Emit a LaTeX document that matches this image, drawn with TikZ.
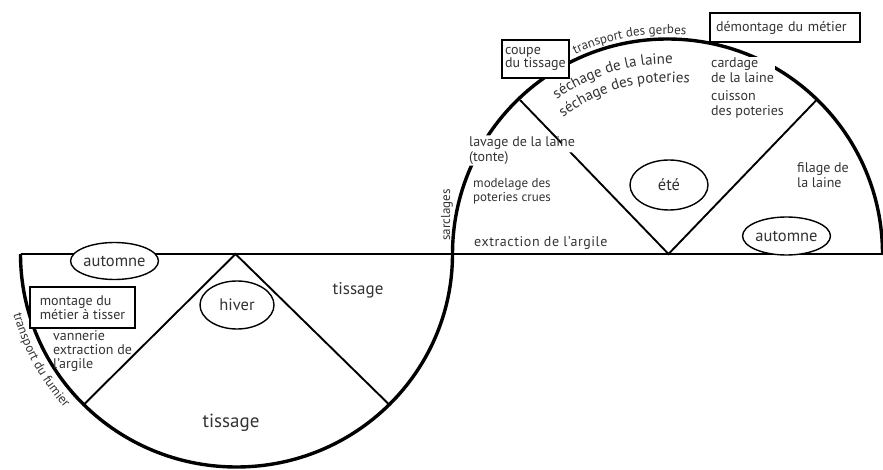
\documentclass[tikz,border=0pt]{standalone}
\usepackage{fontspec}
\setmainfont{PT Sans}
\usetikzlibrary{shapes.geometric,decorations.text,calc}
\definecolor{txt}{gray}{0.2}
\pgfdeclarelayer{bglines}
\pgfsetlayers{bglines,main}
\begin{document}
\begin{tikzpicture}[x=1pt,y=1pt,
  arcline/.style={line width=3.4pt},
  axisline/.style={line width=2.2pt},
  ray/.style={line width=1.9pt},
  season/.style={ellipse, draw, line width=1.4pt, fill=white, inner sep=0, text=txt, font=\fontsize{16.5}{16.5}\selectfont},
  taskbox/.style={draw, line width=1.6pt, fill=white, align=left, inner ysep=0, text=txt, font=\fontsize{14}{14.5}\selectfont},
  lbl/.style={inner sep=0, anchor=west, align=left, text=txt, font=\fontsize{14}{15}\selectfont},
  smalllbl/.style={lbl, font=\fontsize{13}{14}\selectfont},
  curved/.style={decorate, decoration={text along path, text align=center, text color=txt}}
]
\useasboundingbox (0,0) rectangle (883,469);

% geometry
\coordinate (C1) at (236.5,215);
\coordinate (C2) at (667.5,215);
\coordinate (L0) at (20.5,215);
\coordinate (R0) at (883,215);
\coordinate (A1) at (235.5,215);
\coordinate (A2) at (668.5,215);
\coordinate (P1) at (83.8,64.4);
\coordinate (P2) at (389.2,64.4);
\coordinate (P3) at (520,369);
\coordinate (P4) at (817,369.5);

% seasons
\node[season, minimum width=77pt, minimum height=37pt] (autL) at (114.5,208) {automne};
\node[season, minimum width=74pt, minimum height=48pt] (hiver) at (237,164) {hiver};
\node[season, minimum width=78pt, minimum height=50pt] (ete) at (669,284) {été};
\node[season, minimum width=79pt, minimum height=38pt] (autR) at (786.5,233) {automne};

% boxes
\node[taskbox, minimum width=105pt, minimum height=41pt] (montage) at (82.5,161.5) {montage du\\métier à tisser};
\node[taskbox, minimum width=67pt, minimum height=38pt, inner xsep=2pt, font=\fontsize{14}{13}\selectfont] (coupe) at (535.5,410) {coupe\\du tissage};
\node[taskbox, minimum width=150pt, minimum height=29pt, inner xsep=6pt, text width=138pt] (demont) at (785,441.5) {démontage du métier};

% labels
\node[lbl, font=\fontsize{14}{14}\selectfont] (vann) at (53,118) {vannerie\\extraction de\\l’argile};
\node[inner sep=0, text=txt, font=\fontsize{17}{17}\selectfont] (tisA) at (358,179) {tissage};
\node[inner sep=0, text=txt, font=\fontsize{19}{19}\selectfont] (tisB) at (231,46) {tissage};
\node[inner sep=0, text=txt, rotate=90, font=\fontsize{13}{13}\selectfont] (sarc) at (447,254) {sarclages};
\node[lbl] (lav) at (469,318.5) {lavage de la laine\\(tonte)};
\node[smalllbl] (model) at (473,278) {modelage des\\poteries crues};
\node[lbl, font=\fontsize{14}{15}\selectfont\addfontfeature{LetterSpace=4}] (extr) at (474,226) {extraction de l’argile};
\node[lbl] (card) at (711,398.5) {cardage\\de la laine};
\node[lbl] (cuis) at (711,364.5) {cuisson\\des poteries};
\node[lbl] (fil) at (797,293.5) {filage de\\la laine};

% lines, behind the nodes; the S-curve and a ray stop short of the texts they cross
\begin{pgfonlayer}{bglines}
\draw[axisline] (L0) -- (R0);
\begin{scope}[even odd rule]
  \clip (-5,-5) rectangle (890,475)
    ($(lav.south west)+(-1,-1)$) rectangle ($(lav.north east)+(1,1)$)
    ($(card.south west)+(-1,-1)$) rectangle ($(card.north east)+(1,1)$);
  \draw[arcline] (L0) arc[start angle=180,end angle=360,x radius=216,y radius=213]
    arc[start angle=180,end angle=0,radius=215];
\end{scope}
\draw[ray] (P1) -- (A1) -- (P2);
\begin{scope}[even odd rule]
  \clip (-5,-5) rectangle (890,475)
    ($(lav.north east)+(-13,-16)$) rectangle ($(lav.north east)+(1,1)$);
  \draw[ray] (P3) -- (A2) -- (P4);
\end{scope}
\end{pgfonlayer}

% curved labels
\path[curved, decoration={text={|\fontsize{13}{13}\selectfont|transport du fumier}}]
  ($(C1)+(185:231)$) arc[start angle=185,end angle=232,radius=231];
\path[curved, decoration={text={|\fontsize{13}{13}\selectfont|transport des gerbes}}]
  ($(C2)+(130:220)$) arc[start angle=130,end angle=70,radius=220];
\path[curved, decoration={text={|\fontsize{15}{15}\selectfont|séchage de la laine}}]
  ($(C2)+(145:190)$) arc[start angle=145,end angle=69,radius=190];
\path[curved, decoration={text={|\fontsize{15}{15}\selectfont|séchage des poteries}}]
  ($(C2)+(145:172)$) arc[start angle=145,end angle=65,radius=172];
\end{tikzpicture}
\end{document}
